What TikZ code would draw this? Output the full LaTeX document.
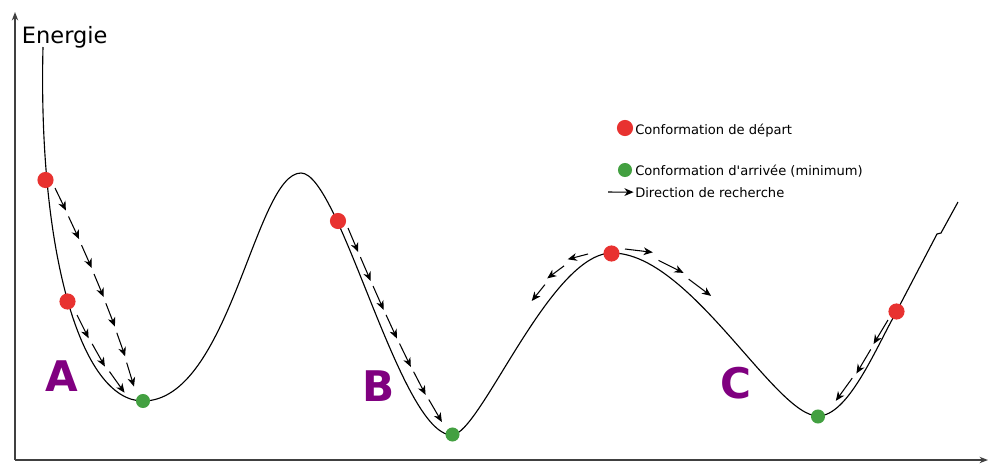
\documentclass[tikz,border=0pt]{standalone}
\usepackage{fontspec}
\setmainfont{DejaVu Sans}
\usetikzlibrary{arrows.meta,decorations.markings}
\definecolor{confred}{RGB}{232,50,48}
\definecolor{confgreen}{RGB}{67,160,65}
\definecolor{basinpurple}{RGB}{128,0,128}
\tikzset{
    startdot/.style = {circle, fill=confred, inner sep=0pt, minimum size=11.5pt},
    enddot/.style = {circle, fill=confgreen, inner sep=0pt, minimum size=10pt},
    searcharrow/.style = {line width=0.75pt, -{Stealth[length=6.5pt,width=5.5pt,inset=2pt]}},
    searchchain/.style 2 args = {
        decoration = {markings,
            mark = between positions 0 and 0.99 step #1 with {\draw [searcharrow] (0,0) -- (#2,0);}},
        decorate
    },
    energy/.style = {line width=0.8pt},
    axis/.style = {draw=black!75, line width=1.2pt, -{Stealth[length=6pt,width=4.5pt]}},
    basin/.style = {text=basinpurple, inner sep=0pt, font=\fontsize{30}{36}\selectfont\bfseries},
    legend/.style = {anchor=base west, inner sep=0pt, font=\fontsize{9.3}{11}\selectfont}
}

\begin{document}
\begin{tikzpicture}[x=0.025cm, y=-0.025cm]
    \useasboundingbox (0,0) rectangle (989,463);

    % axes
    \coordinate (O) at (15,460);
    \coordinate (Ytop) at (15,12);
    \coordinate (Xend) at (988,460);
    \draw [axis] (O) -- (Ytop);
    \draw [axis] (O) -- (Xend);
    \node [anchor=base west, inner sep=0pt, font=\fontsize{16}{19}\selectfont] (energie) at (21.7,43.3) {Energie};

    % energy curve
    \draw [energy] (43,47) .. controls (38,250) and (80,401) .. (143,401)
        .. controls (230,401) and (255,173) .. (301,173)
        .. controls (340,173) and (400,435) .. (452,435)
        .. controls (480,435) and (550,253) .. (612,253)
        .. controls (690,253) and (775,416) .. (818,416)
        .. controls (848,416) and (875,350) .. (896.5,311.5)
        -- (937,234) -- (941,233) -- (958,202);

    % search directions
    \coordinate (A1s) at (55,188);
    \coordinate (A1e) at (135,393);
    \path [searchchain={0.142857}{25}] (A1s) .. controls (85,250) and (120,330) .. (A1e);

    \coordinate (A2s) at (77,315);
    \coordinate (A2e) at (131,396);
    \path [searchchain={0.3333}{26}] (A2s) .. controls (92,345) and (110,378) .. (A2e);

    \coordinate (Bs) at (348,228);
    \coordinate (Be) at (446,426);
    \path [searchchain={0.142857}{26}] (Bs) .. controls (370,280) and (415,385) .. (Be);

    \coordinate (CLs) at (588,254);
    \coordinate (CLe) at (530,307);
    \path [searchchain={0.3333}{21}] (CLs) .. controls (565,260) and (545,280) .. (CLe);

    \coordinate (CRs) at (625,249);
    \coordinate (CRe) at (715,303);
    \path [searchchain={0.3333}{28}] (CRs) .. controls (650,252) and (690,275) .. (CRe);

    \coordinate (Ds) at (888,320);
    \coordinate (De) at (830,404);
    \path [searchchain={0.3333}{28}] (Ds) .. controls (870,350) and (855,380) .. (De);

    % conformations
    \node [startdot] (rA1) at (45.5,180) {};
    \node [startdot] (rA2) at (67.5,301.5) {};
    \node [enddot] (gA) at (143,401) {};
    \node [startdot] (rB) at (338,221) {};
    \node [enddot] (gB) at (452.5,434.5) {};
    \node [startdot] (rC) at (611.5,253.5) {};
    \node [enddot] (gC) at (818,416.5) {};
    \node [startdot] (rD) at (896.5,311.5) {};

    \node [basin] (labA) at (62,376) {A};
    \node [basin] (labB) at (379,386) {B};
    \node [basin] (labC) at (736,383.5) {C};

    % legend
    \node [startdot] (legStart) at (625,128) {};
    \node [legend] (legStartText) at (635,134) {Conformation de départ};
    \node [enddot] (legEnd) at (625,170) {};
    \node [legend] (legEndText) at (635,175) {Conformation d\textquotesingle arrivée (minimum)};
    \coordinate (legArrow) at (608,192);
    \node [legend] (legArrowText) at (635,197) {Direction de recherche};
    \draw [searcharrow] (legArrow) -- ([xshift=-1pt]legArrowText.west);

\end{tikzpicture}
\end{document}
